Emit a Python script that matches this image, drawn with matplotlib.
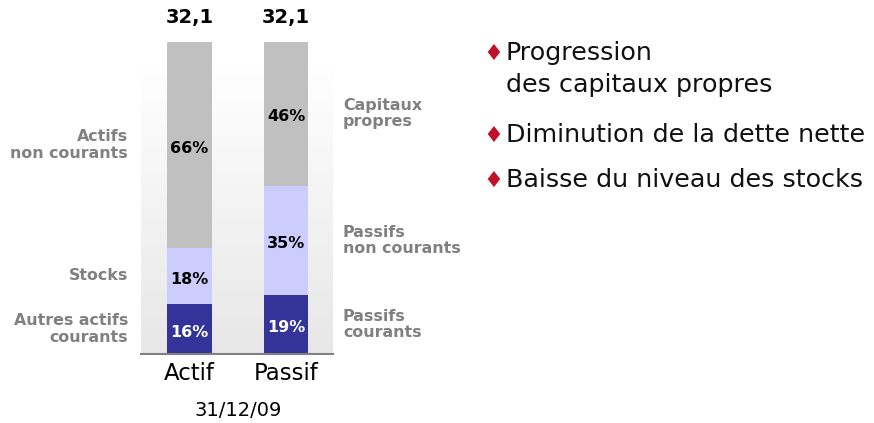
import numpy as np
import matplotlib
matplotlib.use("Agg")
import matplotlib.pyplot as plt

# data
categories = ['Actif', 'Passif']
bottom_vals = [16, 19]   # Autres actifs courants / Passifs courants
middle_vals = [18, 35]   # Stocks / Passifs non courants
top_vals = [66, 46]      # Actifs non courants / Capitaux propres
totals = ['32,1', '32,1']
left_labels = ['Autres actifs\ncourants', 'Stocks', 'Actifs\nnon courants']
right_labels = ['Passifs\ncourants', 'Passifs\nnon courants', 'Capitaux\npropres']
date_label = '31/12/09'
bullets = [['Progression', 'des capitaux propres'],
           ['Diminution de la dette nette'],
           ['Baisse du niveau des stocks']]

c_dark = '#333399'
c_light = '#ccccff'
c_grey = '#c0c0c0'
c_lab = '#808080'

W, H = 874, 423
fig = plt.figure(figsize=(W/100, H/100), dpi=100)

def fx(px):
    return px / W

def fy(py):
    return 1 - py / H

# axes: x from 141 to 333 px, y 0 at 354 px, 100 at 42 px
ax = fig.add_axes([fx(141), fy(354), (333-141)/W, (354-42)/H])
ax.set_xlim(-0.503, 1.487)
ax.set_ylim(0, 100)

# gradient background
grad = np.linspace(1.0, 0.905, 256).reshape(-1, 1)
ax.imshow(np.dstack([grad, grad, grad]), extent=[-0.503, 1.487, 0, 93.3],
          aspect='auto', origin='upper', zorder=0)

x = np.arange(len(categories))
bw = 0.466
b1 = np.array(bottom_vals)
b2 = b1 + np.array(middle_vals)
ax.bar(x, bottom_vals, bw, color=c_dark, zorder=2)
ax.bar(x, middle_vals, bw, bottom=b1, color=c_light, zorder=2)
ax.bar(x, top_vals, bw, bottom=b2, color=c_grey, zorder=2)

pfont = dict(ha='center', va='center', fontsize=11.5, fontweight='bold', zorder=3)
for i in range(len(categories)):
    ax.text(x[i], bottom_vals[i]/2 - 1, f'{bottom_vals[i]}%', color='white', **pfont)
    ax.text(x[i], b1[i] + middle_vals[i]/2 - 1, f'{middle_vals[i]}%', color='black', **pfont)
    ax.text(x[i], b2[i] + top_vals[i]/2 - 1, f'{top_vals[i]}%', color='black', **pfont)
    ax.text(x[i], 107.7, totals[i], ha='center', va='center', fontsize=14,
            fontweight='bold', clip_on=False)

# segment labels
mids0 = [bottom_vals[0]/2, b1[0] + middle_vals[0]/2, b2[0] + top_vals[0]/2]
mids1 = [bottom_vals[1]/2, b1[1] + middle_vals[1]/2, b2[1] + top_vals[1]/2]
for lab, m in zip(left_labels, mids0):
    ax.text(-0.637, m, lab, ha='right', va='center', fontsize=11.4, fontweight='bold',
            color=c_lab, linespacing=1.1, clip_on=False)
for lab, m in zip(right_labels, mids1):
    ax.text(1.59, m, lab, ha='left', va='center', fontsize=11.4, fontweight='bold',
            color=c_lab, linespacing=1.1, clip_on=False)

for s in ['top', 'left', 'right']:
    ax.spines[s].set_visible(False)
ax.spines['bottom'].set_color('#808080')
ax.spines['bottom'].set_linewidth(1.5)
ax.spines['bottom'].set_zorder(4)
ax.set_yticks([])
ax.set_xticks(x)
ax.set_xticklabels(categories, fontsize=16.5)
ax.tick_params(axis='x', length=0, pad=6)
ax.text(0.5, -18, date_label, ha='center', va='center', fontsize=14, clip_on=False)

# bullets
bullet_y = [53, 135, 180]
line_gap = 32
for lines, yy in zip(bullets, bullet_y):
    fig.text(fx(493), fy(yy + 1), '\u2666', color='#c0102a', fontsize=16, ha='center', va='center')
    for k, line in enumerate(lines):
        fig.text(fx(506), fy(yy + k * line_gap), line, fontsize=18.3, ha='left',
                 va='center', color='#111111')

fig.savefig('out.png', dpi=100)
